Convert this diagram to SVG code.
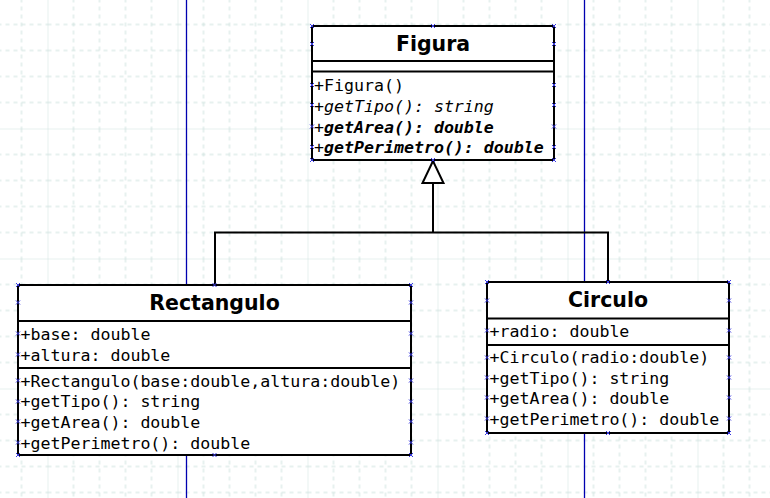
<svg xmlns="http://www.w3.org/2000/svg" width="770" height="498" viewBox="0 0 770 498">
<defs>
<pattern id="grid" patternUnits="userSpaceOnUse" x="47.5" y="128.5" width="130" height="130">
<g stroke="#cfe2de" stroke-width="1" fill="none">
<path d="M0 0V130M0 0H130"/>
<path d="M26 0V130M52 0V130M78 0V130M104 0V130M0 26H130M0 52H130M0 78H130M0 104H130" stroke-dasharray="4,4"/>
</g>
</pattern>
<symbol id="h" viewBox="0 0 5 5" width="5" height="5" overflow="visible">
<path d="M0.5 0.5L4.5 4.5M4.5 0.5L0.5 4.5" stroke="#3a3ae0" stroke-width="1" fill="none"/>
</symbol>
<style>
.box{fill:#fff;stroke:#000;stroke-width:2}
.sep{stroke:#000;stroke-width:2;fill:none}
.title{font-family:"DejaVu Sans",sans-serif;font-weight:bold;font-size:20.5px;text-anchor:middle;fill:#000}
.m{font-family:"DejaVu Sans Mono",monospace;font-size:16.6px;fill:#000}
.i{font-style:italic}
.bi{font-style:italic;font-weight:bold}
.conn{stroke:#000;stroke-width:2;fill:none}
.guide{stroke:#0000b0;stroke-width:1.3}
</style>
</defs>
<rect width="770" height="498" fill="#fff"/>
<rect width="770" height="498" fill="url(#grid)"/>
<line class="guide" x1="186.5" y1="0" x2="186.5" y2="498"/>
<line class="guide" x1="584.5" y1="0" x2="584.5" y2="498"/>

<g id="connectors">
<path class="conn" d="M433 183V232.5H215V285M433 232.5H608V282"/>
<polygon points="433,161 422.5,183 443.5,183" fill="#fff" stroke="#000" stroke-width="2"/>
</g>

<g id="Figura">
<rect class="box" x="312" y="26" width="242" height="134"/>
<path class="sep" d="M312 61H554M312 71.5H554"/>
<text class="title" x="433" y="50.5">Figura</text>
<text class="m" x="314" y="91">+Figura()</text>
<text class="m" x="314" y="111.5">+<tspan class="i">getTipo(): string</tspan></text>
<text class="m" x="314" y="132.5">+<tspan class="bi">getArea(): double</tspan></text>
<text class="m" x="314" y="153">+<tspan class="bi">getPerimetro(): double</tspan></text>
<g>
<use href="#h" x="309.5" y="23.5"/><use href="#h" x="430.5" y="23.5"/><use href="#h" x="551.5" y="23.5"/>
<use href="#h" x="309.5" y="157.5"/><use href="#h" x="430.5" y="157.5"/><use href="#h" x="551.5" y="157.5"/>
<use href="#h" x="309.5" y="41.5"/><use href="#h" x="551.5" y="41.5"/>
<use href="#h" x="309.5" y="82.5"/><use href="#h" x="551.5" y="82.5"/>
<use href="#h" x="309.5" y="102.5"/><use href="#h" x="551.5" y="102.5"/>
<use href="#h" x="309.5" y="124"/><use href="#h" x="551.5" y="124"/>
<use href="#h" x="309.5" y="144.5"/><use href="#h" x="551.5" y="144.5"/>
</g>
</g>

<g id="Rectangulo">
<rect class="box" x="18" y="285" width="393" height="170"/>
<path class="sep" d="M18 321H411M18 368H411"/>
<text class="title" x="214.5" y="310">Rectangulo</text>
<text class="m" x="20.5" y="340">+base: double</text>
<text class="m" x="20.5" y="360.5">+altura: double</text>
<text class="m" x="20.5" y="386.5">+Rectangulo(base:double,altura:double)</text>
<text class="m" x="20.5" y="407">+getTipo(): string</text>
<text class="m" x="20.5" y="428">+getArea(): double</text>
<text class="m" x="20.5" y="448.5">+getPerimetro(): double</text>
<g>
<use href="#h" x="15.5" y="282.5"/><use href="#h" x="212" y="282.5"/><use href="#h" x="408.5" y="282.5"/>
<use href="#h" x="15.5" y="452.5"/><use href="#h" x="212" y="452.5"/><use href="#h" x="408.5" y="452.5"/>
<use href="#h" x="15.5" y="300"/><use href="#h" x="408.5" y="300"/>
<use href="#h" x="15.5" y="331"/><use href="#h" x="408.5" y="331"/>
<use href="#h" x="15.5" y="352"/><use href="#h" x="408.5" y="352"/>
<use href="#h" x="15.5" y="378"/><use href="#h" x="408.5" y="378"/>
<use href="#h" x="15.5" y="399"/><use href="#h" x="408.5" y="399"/>
<use href="#h" x="15.5" y="419"/><use href="#h" x="408.5" y="419"/>
<use href="#h" x="15.5" y="440"/><use href="#h" x="408.5" y="440"/>
</g>
</g>

<g id="Circulo">
<rect class="box" x="487" y="282" width="242" height="151"/>
<path class="sep" d="M487 318.5H729M487 345H729"/>
<text class="title" x="608" y="307">Circulo</text>
<text class="m" x="489.5" y="336.5">+radio: double</text>
<text class="m" x="489.5" y="362.5">+Circulo(radio:double)</text>
<text class="m" x="489.5" y="383.5">+getTipo(): string</text>
<text class="m" x="489.5" y="404">+getArea(): double</text>
<text class="m" x="489.5" y="424.5">+getPerimetro(): double</text>
<g>
<use href="#h" x="484.5" y="279.5"/><use href="#h" x="605.5" y="279.5"/><use href="#h" x="726.5" y="279.5"/>
<use href="#h" x="484.5" y="430.5"/><use href="#h" x="605.5" y="430.5"/><use href="#h" x="726.5" y="430.5"/>
<use href="#h" x="484.5" y="298"/><use href="#h" x="726.5" y="298"/>
<use href="#h" x="484.5" y="328"/><use href="#h" x="726.5" y="328"/>
<use href="#h" x="484.5" y="355"/><use href="#h" x="726.5" y="355"/>
<use href="#h" x="484.5" y="375"/><use href="#h" x="726.5" y="375"/>
<use href="#h" x="484.5" y="395"/><use href="#h" x="726.5" y="395"/>
<use href="#h" x="484.5" y="416"/><use href="#h" x="726.5" y="416"/>
</g>
</g>
</svg>
